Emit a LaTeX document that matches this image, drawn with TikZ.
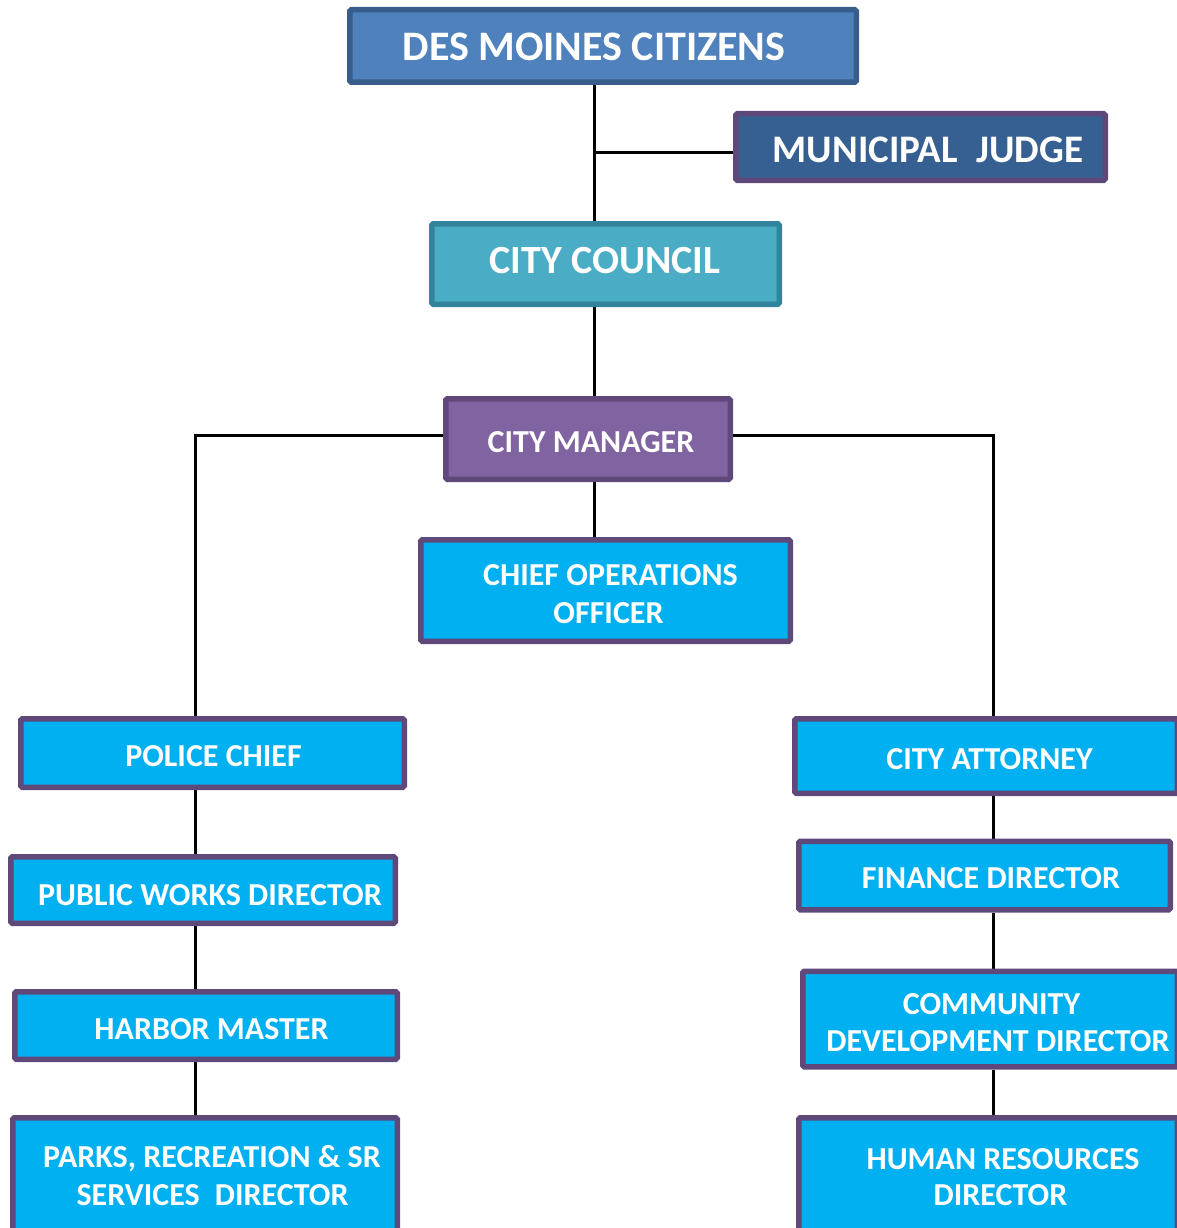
\documentclass[tikz,border=0pt]{standalone}
\usepackage{fontspec}
\setmainfont{Carlito}
\usetikzlibrary{backgrounds}
\definecolor{citfill}{HTML}{4F81BD}
\definecolor{citline}{HTML}{385D8A}
\definecolor{judfill}{HTML}{366092}
\definecolor{purpline}{HTML}{5F497A}
\definecolor{coufill}{HTML}{4BACC6}
\definecolor{couline}{HTML}{31849B}
\definecolor{manfill}{HTML}{8064A2}
\definecolor{cyanfill}{HTML}{00B0F0}
\tikzset{
  box/.style={draw, line width=5.5pt, rounded corners=1.5pt, rectangle, inner sep=0pt},
  bluebox/.style={box, fill=cyanfill, draw=purpline},
  lbl/.style={anchor=base, inner sep=0pt, text=white, font=\bfseries\fontsize{32}{37}\selectfont},
  conn/.style={draw=black, line width=3pt}
}
\begin{document}
\begin{tikzpicture}[x=1pt,y=-1pt]
\useasboundingbox (0,0) rectangle (1177,1228);
\clip (0,0) rectangle (1177,1228);
% boxes
\node[box, fill=citfill, draw=citline, minimum width=506.5pt, minimum height=72.5pt] (cit) at (603,46) {};
\node[box, fill=judfill, draw=purpline, minimum width=369.5pt, minimum height=66.5pt] (jud) at (920.5,147) {};
\node[box, fill=coufill, draw=couline, minimum width=347.5pt, minimum height=80.5pt] (cou) at (605.5,264) {};
\node[box, fill=manfill, draw=purpline, minimum width=284.5pt, minimum height=80.5pt] (man) at (588,439) {};
\node[bluebox, minimum width=369.5pt, minimum height=101.5pt] (coo) at (605.5,590.5) {};
\node[bluebox, minimum width=383.5pt, minimum height=68.5pt] (pol) at (212.5,753) {};
\node[bluebox, minimum width=384.5pt, minimum height=66.5pt] (pw) at (203,890) {};
\node[bluebox, minimum width=382.5pt, minimum height=67.5pt] (har) at (206,1025.5) {};
\node[bluebox, minimum width=384.5pt, minimum height=120.5pt] (par) at (205,1178) {};
\node[bluebox, minimum width=382.5pt, minimum height=74.5pt] (att) at (986,756) {};
\node[bluebox, minimum width=371.5pt, minimum height=68.5pt] (fin) at (984.5,875.5) {};
\node[bluebox, minimum width=374.5pt, minimum height=95.5pt] (com) at (990,1019) {};
\node[bluebox, minimum width=378.5pt, minimum height=120.5pt] (hr) at (988,1178) {};
% texts
\node[lbl, font=\bfseries\fontsize{42}{50}\selectfont] (cit-t) at (594,61) {DES MOINES CITIZENS};
\node[lbl, font=\bfseries\fontsize{39}{46}\selectfont] (jud-t) at (928,162) {MUNICIPAL\hspace{0.25em} JUDGE};
\node[lbl, font=\bfseries\fontsize{40}{46}\selectfont] (cou-t) at (605,273) {CITY COUNCIL};
\node[lbl] (man-t) at (591,452) {CITY MANAGER};
\node[lbl] (coo-t1) at (610.5,585) {CHIEF OPERATIONS};
\node[lbl] (coo-t2) at (608.5,623) {OFFICER};
\node[lbl] (pol-t) at (213.5,766) {POLICE CHIEF};
\node[lbl] (pw-t) at (210,905) {PUBLIC WORKS DIRECTOR};
\node[lbl] (har-t) at (211.5,1039) {HARBOR MASTER};
\node[lbl] (par-t1) at (212,1167) {PARKS, RECREATION \& SR};
\node[lbl] (par-t2) at (212.5,1205) {SERVICES\hspace{0.25em} DIRECTOR};
\node[lbl] (att-t) at (989.5,769) {CITY ATTORNEY};
\node[lbl] (fin-t) at (991,888) {FINANCE DIRECTOR};
\node[lbl] (com-t1) at (991.5,1014) {COMMUNITY};
\node[lbl] (com-t2) at (998,1051) {DEVELOPMENT DIRECTOR};
\node[lbl] (hr-t1) at (1003,1169) {HUMAN RESOURCES};
\node[lbl] (hr-t2) at (1000.5,1205) {DIRECTOR};
% connector guides
\coordinate (tr) at (594,0);
\coordinate (lt) at (195,0);
\coordinate (rt) at (993,0);
\coordinate (hy) at (0,435);
\coordinate (jy) at (0,152);
\begin{scope}[on background layer]
\draw[conn] (tr |- cit.south) -- (tr |- cou.north);
\draw[conn] (tr |- jy) -- (jud.west |- jy);
\draw[conn] (tr |- cou.south) -- (tr |- man.north);
\draw[conn] (tr |- man.south) -- (tr |- coo.north);
\draw[conn] (man.west |- hy) -| (lt |- pol.north);
\draw[conn] (man.east |- hy) -| (rt |- att.north);
\draw[conn] (lt |- pol.south) -- (lt |- pw.north);
\draw[conn] (lt |- pw.south) -- (lt |- har.north);
\draw[conn] (lt |- har.south) -- (lt |- par.north);
\draw[conn] (rt |- att.south) -- (rt |- fin.north);
\draw[conn] (rt |- fin.south) -- (rt |- com.north);
\draw[conn] (rt |- com.south) -- (rt |- hr.north);
\end{scope}
\end{tikzpicture}
\end{document}
